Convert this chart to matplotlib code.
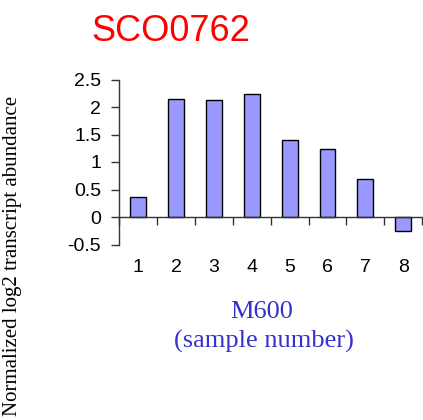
import matplotlib
matplotlib.use("Agg")
import matplotlib.pyplot as plt
import numpy as np

categories = ["1", "2", "3", "4", "5", "6", "7", "8"]
values = [0.37, 2.15, 2.12, 2.24, 1.40, 1.24, 0.69, -0.26]
yticks = [-0.5, 0, 0.5, 1, 1.5, 2, 2.5]
ytick_labels = ["-0.5", "0", "0.5", "1", "1.5", "2", "2.5"]
title = "SCO0762"
xlabel1 = "M600"
xlabel2 = "(sample number)"
ylabel = "Normalized log2 transcript abundance"

W, H = 423, 420
fig = plt.figure(figsize=(W / 100, H / 100), dpi=100)
left = 119.3 / W
right = 0.998
bottom = 1 - 244.5 / H
top = 1 - 79.5 / H
ax = fig.add_axes([left, bottom, right - left, top - bottom])

x = np.arange(1, len(categories) + 1)
ax.bar(x, values, width=0.42, color="#9999ff", edgecolor="black", linewidth=1, zorder=3)

ax.set_xlim(0.5, len(categories) + 0.5)
ax.set_ylim(-0.5, 2.5)

for s in ["top", "right"]:
    ax.spines[s].set_visible(False)
ax.spines["bottom"].set_position(("data", 0))
ax.spines["bottom"].set_color("#333333")
ax.spines["left"].set_color("#333333")
ax.spines["bottom"].set_linewidth(1)
ax.spines["left"].set_linewidth(1)
ax.spines["bottom"].set_zorder(4)

ax.set_yticks(yticks)
ax.set_yticklabels(ytick_labels, fontfamily="Liberation Sans", fontsize=14)
ax.tick_params(axis="y", direction="out", length=6, width=1, pad=7, color="#333333")

ax.set_xticks(np.arange(0.5, len(categories) + 1, 1.0))
ax.set_xticklabels([])
ax.tick_params(axis="x", which="major", direction="out", length=6, width=1, color="#333333")
ax.set_xticks(x, minor=True)
ax.set_xticklabels(categories, minor=True, fontfamily="Liberation Sans", fontsize=14)
ax.tick_params(axis="x", which="minor", length=0, pad=30.5)

fig.text(170.5 / W, 1 - 41 / H, title, ha="center", va="baseline",
         fontfamily="Liberation Sans", fontsize=26, color="#ff0000")
fig.text(261.5 / W, 1 - 318 / H, xlabel1, ha="center", va="baseline",
         fontfamily="Liberation Serif", fontsize=19, color="#3333cc")
fig.text(264 / W, 1 - 348 / H, xlabel2, ha="center", va="baseline",
         fontfamily="Liberation Serif", fontsize=19, color="#3333cc")
fig.text(13 / W, 1 - 256 / H, ylabel, ha="center", va="center", rotation=90,
         fontfamily="Liberation Serif", fontsize=15, color="black")

fig.savefig("out.png", dpi=100)
